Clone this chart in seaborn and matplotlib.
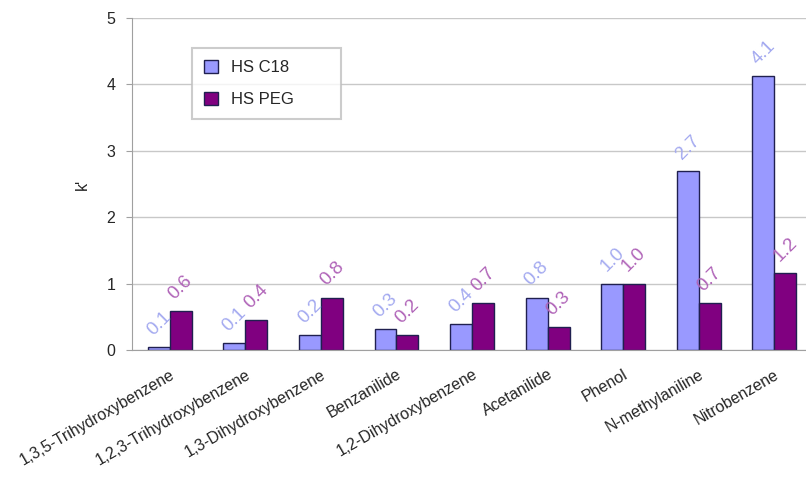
import pandas as pd
import matplotlib.pyplot as plt
import seaborn as sns

compounds = ['1,3,5-Trihydroxybenzene', '1,2,3-Trihydroxybenzene', '1,3-Dihydroxybenzene',
             'Benzanilide', '1,2-Dihydroxybenzene', 'Acetanilide', 'Phenol',
             'N-methylaniline', 'Nitrobenzene']
c18 = [0.04, 0.11, 0.23, 0.31, 0.39, 0.79, 1.00, 2.70, 4.12]
peg = [0.59, 0.45, 0.79, 0.22, 0.71, 0.35, 1.00, 0.71, 1.16]
c18_labels = ['0.1', '0.1', '0.2', '0.3', '0.4', '0.8', '1.0', '2.7', '4.1']
peg_labels = ['0.6', '0.4', '0.8', '0.2', '0.7', '0.3', '1.0', '0.7', '1.2']

df = pd.DataFrame({
    'compound': compounds * 2,
    'k': c18 + peg,
    'column': ['HS C18'] * len(c18) + ['HS PEG'] * len(peg),
})

sns.set_style('white')
plt.rcParams['font.family'] = ['Liberation Sans', 'DejaVu Sans']

fig = plt.figure(figsize=(8.06, 4.79), dpi=100)
# plot area runs a little past the right edge, as in the original
ax = fig.add_axes([0.1638, 0.2693, 0.8437, 0.6931])

sns.barplot(data=df, x='compound', y='k', hue='column',
            palette=['#9999ff', '#800080'], width=0.58,
            edgecolor='#202050', linewidth=1.0, saturation=1, ax=ax)

ax.bar_label(ax.containers[0], labels=c18_labels, rotation=45, color='#a4aaf0',
             fontsize=13.5, padding=6)
ax.bar_label(ax.containers[1], labels=peg_labels, rotation=45, color='#b064b8',
             fontsize=13.5, padding=6)

ax.set_ylim(0, 5)
ax.set_xlim(-0.5, 8.5)
ax.set_yticks([0, 1, 2, 3, 4, 5])
ax.yaxis.grid(True, color='#c8c8c8', linewidth=1)
ax.set_axisbelow(True)
for s in ['top', 'right']:
    ax.spines[s].set_visible(False)
ax.spines['left'].set_color('#a0a0a0')
ax.spines['bottom'].set_color('#a0a0a0')

ax.set_xticks(range(len(compounds)))
ax.set_xticklabels(compounds, rotation=30, ha='right', rotation_mode='anchor', fontsize=11.5)
ax.tick_params(axis='x', length=0, pad=12)
ax.set_xticks([i + 0.5 for i in range(-1, len(compounds))], minor=True)
ax.tick_params(axis='x', which='minor', length=4, color='#a0a0a0', direction='out')
ax.tick_params(axis='y', labelsize=11.5, length=4, color='#a0a0a0', left=True, pad=8)
ax.set_xlabel('')
ax.set_ylabel("k'", fontsize=11.5, labelpad=12)

leg = ax.legend(loc='upper left', bbox_to_anchor=(0.088, 0.67, 0.22, 0.24), mode='expand',
                fontsize=12, frameon=True, fancybox=False, edgecolor='#c0c0c0',
                handlelength=0.85, handleheight=0.85, borderpad=0.7,
                labelspacing=1.0, handletextpad=0.8, borderaxespad=0)
leg.get_frame().set_linewidth(1.5)

fig.savefig('out.png', dpi=100)
